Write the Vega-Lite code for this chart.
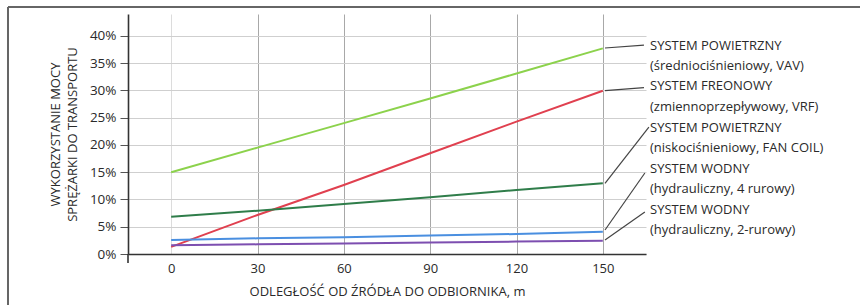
{
  "$schema": "https://vega.github.io/schema/vega-lite/v6.json",
  "width": 518,
  "height": 240,
  "autosize": {"type": "none"},
  "padding": {"left": 128, "top": 14, "right": 214, "bottom": 51},
  "background": "white",
  "config": {
    "view": {"stroke": null},
    "font": "Open Sans",
    "axis": {"labelFont": "Open Sans", "titleFont": "Open Sans", "labelColor": "#2a2a2a", "titleColor": "#2a2a2a", "titleFontWeight": "normal"}
  },
  "datasets": {
    "series": [
      {"x": 0, "y": 0.150, "s": "vav"}, {"x": 30, "y": 0.195, "s": "vav"}, {"x": 60, "y": 0.240, "s": "vav"}, {"x": 90, "y": 0.285, "s": "vav"}, {"x": 120, "y": 0.331, "s": "vav"}, {"x": 150, "y": 0.377, "s": "vav"},
      {"x": 0, "y": 0.013, "s": "vrf"}, {"x": 30, "y": 0.0715, "s": "vrf"}, {"x": 60, "y": 0.1265, "s": "vrf"}, {"x": 90, "y": 0.1846, "s": "vrf"}, {"x": 120, "y": 0.2426, "s": "vrf"}, {"x": 150, "y": 0.2994, "s": "vrf"},
      {"x": 0, "y": 0.0685, "s": "fan"}, {"x": 30, "y": 0.0794, "s": "fan"}, {"x": 60, "y": 0.0917, "s": "fan"}, {"x": 90, "y": 0.1039, "s": "fan"}, {"x": 120, "y": 0.1173, "s": "fan"}, {"x": 150, "y": 0.1296, "s": "fan"},
      {"x": 0, "y": 0.0257, "s": "w4"}, {"x": 30, "y": 0.0287, "s": "w4"}, {"x": 60, "y": 0.0306, "s": "w4"}, {"x": 90, "y": 0.0338, "s": "w4"}, {"x": 120, "y": 0.0367, "s": "w4"}, {"x": 150, "y": 0.0409, "s": "w4"},
      {"x": 0, "y": 0.016, "s": "w2"}, {"x": 30, "y": 0.0177, "s": "w2"}, {"x": 60, "y": 0.0194, "s": "w2"}, {"x": 90, "y": 0.021, "s": "w2"}, {"x": 120, "y": 0.0227, "s": "w2"}, {"x": 150, "y": 0.0244, "s": "w2"}
    ],
    "leaders": [
      {"x": 150.75, "y": 0.3777, "x2": 164.3, "y2": 0.383},
      {"x": 150.75, "y": 0.2994, "x2": 164.3, "y2": 0.305},
      {"x": 150.75, "y": 0.1296, "x2": 166.0, "y2": 0.2328},
      {"x": 150.75, "y": 0.044, "x2": 164.6, "y2": 0.1485},
      {"x": 150.75, "y": 0.0257, "x2": 164.6, "y2": 0.077}
    ],
    "labels": [
      {"x": 166.4, "y": 0.3813, "t": "SYSTEM POWIETRZNY"},
      {"x": 166.4, "y": 0.3447, "t": "(średniociśnieniowy, VAV)"},
      {"x": 166.4, "y": 0.308, "t": "SYSTEM FREONOWY"},
      {"x": 166.4, "y": 0.2695, "t": "(zmiennoprzepływowy, VRF)"},
      {"x": 166.4, "y": 0.231, "t": "SYSTEM POWIETRZNY"},
      {"x": 166.4, "y": 0.1943, "t": "(niskociśnieniowy, FAN COIL)"},
      {"x": 166.4, "y": 0.1558, "t": "SYSTEM WODNY"},
      {"x": 166.4, "y": 0.1192, "t": "(hydrauliczny, 4 rurowy)"},
      {"x": 166.4, "y": 0.0807, "t": "SYSTEM WODNY"},
      {"x": 166.4, "y": 0.044, "t": "(hydrauliczny, 2-rurowy)"}
    ],
    "frame": [
      {"x": -56.7, "y": 0.4528, "x2": 240, "y2": 0.4528},
      {"x": -56.7, "y": 0.4528, "x2": -56.7, "y2": -0.1}
    ],
    "ext": [
      {"x": -15, "y": 0, "y2": -0.0165}
    ]
  },
  "encoding": {
    "x": {
      "field": "x", "type": "quantitative",
      "scale": {"domain": [-15, 165], "nice": false, "zero": false},
      "axis": {
        "values": [0, 30, 60, 90, 120, 150],
        "title": "ODLEGŁOŚĆ OD ŹRÓDŁA DO ODBIORNIKA, m",
        "titleFontSize": 13, "titlePadding": 10,
        "labelFontSize": 13, "labelPadding": 8,
        "ticks": false,
        "domainColor": "#333", "domainWidth": 1.6,
        "grid": true,
        "gridColor": {"condition": {"test": "datum.value === 0", "value": "#dcdcdc"}, "value": "#a8a8a8"},
        "gridWidth": 1
      }
    },
    "y": {
      "field": "y", "type": "quantitative",
      "scale": {"domain": [0, 0.44], "nice": false},
      "axis": {
        "values": [0, 0.05, 0.1, 0.15, 0.2, 0.25, 0.3, 0.35, 0.4],
        "format": ".0%",
        "labelOverlap": false,
        "title": ["WYKORZYSTANIE  MOCY", "SPRĘŻARKI DO TRANSPORTU"],
        "titleFontSize": 13, "titleLineHeight": 17, "titlePadding": 10,
        "labelFontSize": 13.5, "labelPadding": 4,
        "tickSize": 8, "tickColor": "#555",
        "domainColor": "#333", "domainWidth": 1.6,
        "grid": true, "gridColor": "#cfcfcf", "gridWidth": 1
      }
    }
  },
  "layer": [
    {
      "data": {"name": "series"},
      "mark": {"type": "line", "strokeWidth": 2, "clip": false},
      "encoding": {
        "color": {
          "field": "s", "type": "nominal",
          "scale": {"domain": ["vav", "vrf", "fan", "w4", "w2"], "range": ["#8cd24c", "#e0404f", "#2f7d4a", "#4a8fe0", "#7d4fb0"]},
          "legend": null
        }
      }
    },
    {
      "data": {"name": "leaders"},
      "mark": {"type": "rule", "color": "#444", "strokeWidth": 1.2, "clip": false},
      "encoding": {
        "x2": {"field": "x2"},
        "y2": {"field": "y2"}
      }
    },
    {
      "data": {"name": "labels"},
      "mark": {"type": "text", "align": "left", "baseline": "middle", "font": "Open Sans", "fontSize": 13, "color": "#2a2a2a", "clip": false},
      "encoding": {
        "text": {"field": "t"}
      }
    },
    {
      "data": {"name": "frame"},
      "mark": {"type": "rule", "color": "#666", "strokeWidth": 2, "clip": false},
      "encoding": {
        "x2": {"field": "x2"},
        "y2": {"field": "y2"}
      }
    },
    {
      "data": {"name": "ext"},
      "mark": {"type": "rule", "color": "#333", "strokeWidth": 1.6, "clip": false},
      "encoding": {
        "y2": {"field": "y2"}
      }
    }
  ]
}
